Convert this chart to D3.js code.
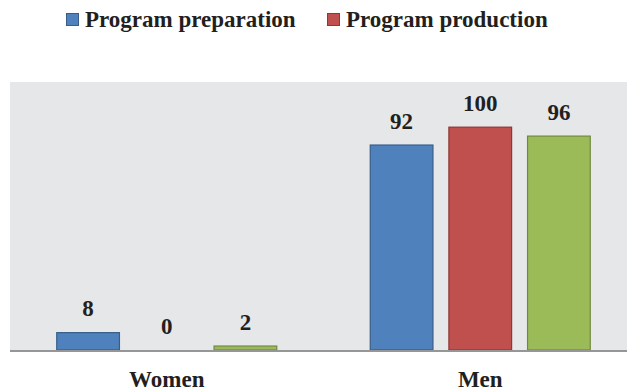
<!DOCTYPE html>
<html>
<head>
<meta charset="utf-8">
<script src="https://cdn.jsdelivr.net/npm/d3@7"></script>
<style>
  html, body { margin: 0; padding: 0; background: #ffffff; }
  svg { display: block; }
</style>
</head>
<body>
<svg id="chart" width="627" height="390"></svg>
<script>
// Share of respondents by gender, per activity
const categories = ["Women", "Men"];
const seriesKeys = ["s1", "s2", "s3"];
const legendLabels = ["Program preparation", "Program production"];
const series1 = [8, 92];
const series2 = [0, 100];
const series3 = [2, 96];
const yTicks = [0, 20, 40, 60, 80, 100, 120];

const fills = ["#4f81bd", "#c0504d", "#9bbb59"];
const strokes = ["#385d8a", "#8c3836", "#71893f"];

// pick the first serif face that really resolves (not aliased to a generic)
const ctx = document.createElement("canvas").getContext("2d");
const probe = "Program preparation Women 0123456789 gWa";
function w(font) { ctx.font = font; return ctx.measureText(probe).width; }
function pickFont(candidates) {
  const bases = ["monospace", "sans-serif", "\"DejaVu Sans\""].map(g => w(`bold 40px ${g}`));
  for (const f of candidates) {
    const fw = w(`bold 40px "${f}", monospace`);
    if (bases.every(b => Math.abs(fw - b) > 0.5)) return f;
  }
  return "serif";
}
const FACE = pickFont(["Liberation Serif", "Tinos", "Times New Roman", "DejaVu Serif Condensed", "Noto Serif", "DejaVu Serif"]);
const FONT = `"${FACE}", serif`;
// size the face so the legend line keeps its width
const fontSize = Math.min(23, 23 * 212 / (w(`bold 23px ${FONT}`) * "Program preparation".length / probe.length) );

const svg = d3.select("#chart");
const W = 627, H = 390;
const plot = { left: 10, right: 637, top: 82, bottom: 350 };

const values = [series1, series2, series3];
const rows = categories.map((c, i) => ({
  category: c,
  items: seriesKeys.map((k, j) => ({ key: k, idx: j, value: values[j][i] }))
}));

const x0 = d3.scaleBand().domain(categories).range([plot.left, plot.right]).padding(0);
const x1 = d3.scaleBand().domain(seriesKeys).range([0, x0.bandwidth()])
  .paddingInner(0.19).paddingOuter(0.588);
const y = d3.scaleLinear().domain([0, d3.max(yTicks)]).range([plot.bottom, plot.top]);

function label(sel) {
  return sel.style("font-family", FONT).style("font-weight", "bold")
    .style("font-size", "23px").attr("fill", "#231f20");
}

// plot area background (clipped at the right edge of the canvas)
svg.append("rect")
  .attr("x", plot.left).attr("y", plot.top)
  .attr("width", W - plot.left).attr("height", plot.bottom - plot.top)
  .attr("fill", "#e6e7e9");

const groups = svg.selectAll("g.cat").data(rows).join("g")
  .attr("class", "cat")
  .attr("transform", d => `translate(${x0(d.category)},0)`);

groups.selectAll("rect.bar").data(d => d.items.filter(it => it.value > 0)).join("rect")
  .attr("class", "bar")
  .attr("x", d => x1(d.key) + 0.5)
  .attr("y", d => y(d.value) + 0.5)
  .attr("width", x1.bandwidth() - 1)
  .attr("height", d => y(0) - y(d.value) - 0.5)
  .attr("fill", d => fills[d.idx])
  .attr("stroke", d => strokes[d.idx])
  .attr("stroke-width", 1.2);

groups.selectAll("text.val").data(d => d.items).join("text")
  .attr("class", "val")
  .attr("x", d => x1(d.key) + x1.bandwidth() / 2)
  .attr("y", d => y(d.value) - 16)
  .attr("text-anchor", "middle")
  .call(label)
  .text(d => d.value);

// category axis line
svg.append("line")
  .attr("x1", plot.left).attr("x2", W)
  .attr("y1", plot.bottom + 1).attr("y2", plot.bottom + 1)
  .attr("stroke", "#969696").attr("stroke-width", 2);

svg.selectAll("text.catlabel").data(categories).join("text")
  .attr("class", "catlabel")
  .attr("x", d => x0(d) + x0.bandwidth() / 2)
  .attr("y", 386.5)
  .attr("text-anchor", "middle")
  .call(label)
  .text(d => d);

// legend
const legendX = [66, 327];
const leg = svg.selectAll("g.leg").data(legendLabels).join("g")
  .attr("class", "leg")
  .attr("transform", (d, i) => `translate(${legendX[i]},0)`);
leg.append("rect")
  .attr("x", 0.5).attr("y", 13.5).attr("width", 12).attr("height", 12)
  .attr("fill", (d, i) => fills[i]).attr("stroke", (d, i) => strokes[i]).attr("stroke-width", 1);
leg.append("text")
  .attr("x", 19).attr("y", 26.5)
  .call(label)
  .text(d => d);
</script>
</body>
</html>
